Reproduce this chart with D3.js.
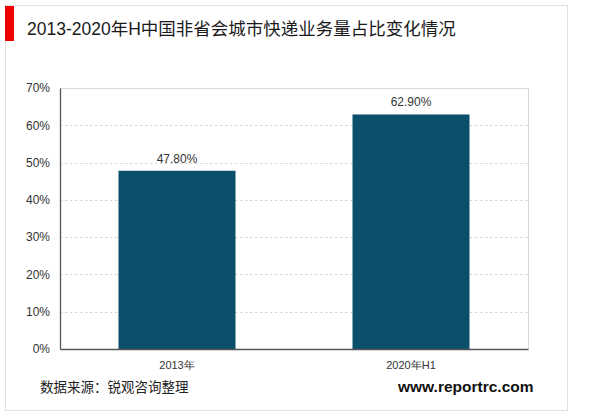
<!DOCTYPE html>
<html><head><meta charset="utf-8">
<script src="https://cdn.jsdelivr.net/npm/d3@7"></script>
<style>
html,body{margin:0;padding:0;background:#fff;}
svg{display:block;font-family:"Liberation Sans","Noto Sans CJK SC",Arial,sans-serif;}
</style></head>
<body>
<svg id="c" width="600" height="416"></svg>
<script>
const title = "2013-2020年H中国非省会城市快递业务量占比变化情况";
const categories = ["2013年", "2020年H1"];
const values = [47.8, 62.9];
const valueLabels = ["47.80%", "62.90%"];
const yTicks = [0, 10, 20, 30, 40, 50, 60, 70];
const source = "数据来源：锐观咨询整理";
const site = "www.reportrc.com";

const svg = d3.select("#c");
// card
svg.append("rect").attr("x",5.5).attr("y",5.5).attr("width",562).attr("height",405)
  .attr("fill","#fff").attr("stroke","#e2e2e2");
svg.append("rect").attr("x",5).attr("y",6).attr("width",9).attr("height",35).attr("fill","#f00000");
svg.append("text").attr("x",27).attr("y",35).attr("font-size",17.5).attr("fill","#1a1a1a").text(title);

const m = {left:60, right:528, top:88, bottom:349};
const x = d3.scaleBand().domain(categories).range([m.left, m.right]).paddingInner(0.5).paddingOuter(0.25);
const y = d3.scaleLinear().domain([0,70]).range([m.bottom, m.top]);

// plot border top/right
svg.append("path").attr("d",`M${m.left},${m.top+0.5}H${m.right+0.5}V${m.bottom}`)
  .attr("fill","none").attr("stroke","#d9d9d9");
// gridlines
svg.append("g").selectAll("line").data(yTicks.filter(t=>t>0&&t<70)).join("line")
  .attr("x1",m.left).attr("x2",m.right).attr("y1",d=>Math.round(y(d))+0.5).attr("y2",d=>Math.round(y(d))+0.5)
  .attr("stroke","#d6d6d6").attr("stroke-dasharray","2.5,2.5");

// bars
svg.append("g").selectAll("rect").data(values).join("rect")
  .attr("x",(d,i)=>x(categories[i])).attr("width",x.bandwidth())
  .attr("y",d=>y(d)).attr("height",d=>y(0)-y(d)).attr("fill","#0a506b");
svg.append("g").selectAll("text").data(values).join("text")
  .attr("x",(d,i)=>x(categories[i])+x.bandwidth()/2).attr("y",d=>y(d)-8)
  .attr("text-anchor","middle").attr("font-size",12).attr("fill","#333")
  .text((d,i)=>valueLabels[i]);

// y axis
const ya = d3.axisLeft(y).tickValues(yTicks).tickFormat(d=>d+"%").tickSize(0).tickPadding(10);
const yg = svg.append("g").attr("transform",`translate(${m.left},0)`).call(ya);
yg.select(".domain").attr("stroke","#555").attr("stroke-width",1.3);
yg.selectAll("text").attr("font-size",12).attr("fill","#333").attr("font-family","Liberation Sans, Arial, sans-serif");

// x axis
const xa = d3.axisBottom(x).tickSize(0).tickPadding(12);
const xg = svg.append("g").attr("transform",`translate(0,${m.bottom})`).call(xa);
xg.select(".domain").attr("stroke","#555").attr("stroke-width",1.3);
xg.selectAll("text").attr("font-size",11).attr("fill","#333");

svg.append("text").attr("x",40).attr("y",392).attr("font-size",13.5).attr("fill","#222").text(source);
svg.append("text").attr("x",398).attr("y",392).attr("font-size",15.5).attr("font-weight","bold").attr("fill","#111").text(site);
</script>
</body></html>
